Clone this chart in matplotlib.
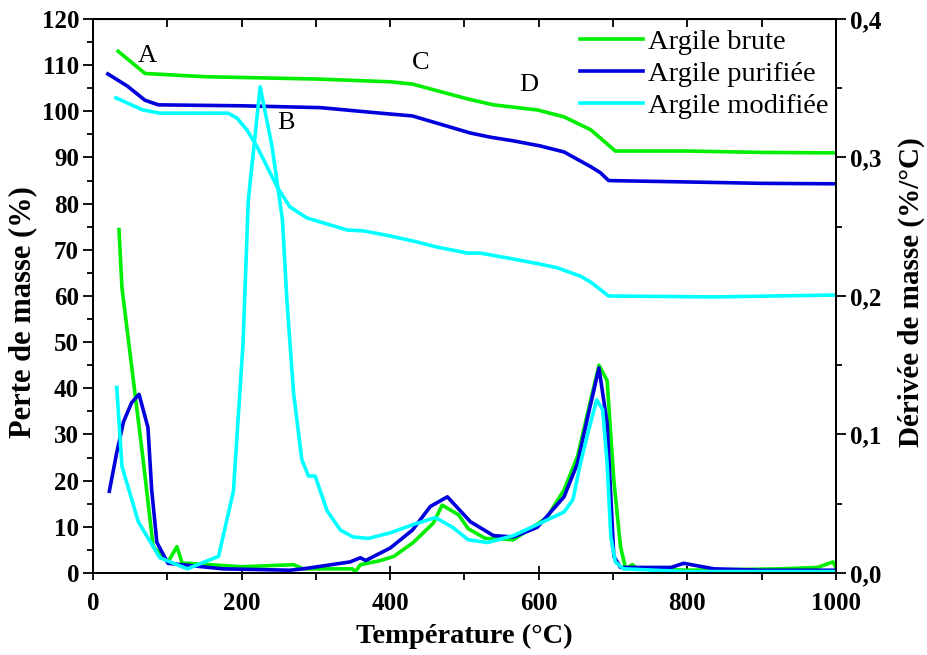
import matplotlib
matplotlib.use("Agg")
import matplotlib.pyplot as plt
from matplotlib.ticker import MultipleLocator, FuncFormatter

plt.rcParams['font.family'] = ['Liberation Serif', 'DejaVu Serif']

# ===============================
# DATA
# ===============================

# TGA - perte de masse (%)
T_brute = [34, 70, 150, 300, 400, 430, 504, 539, 598, 634, 670, 703, 800, 900, 997]
M_brute = [113, 108.2, 107.5, 107.0, 106.4, 105.9, 102.7, 101.4, 100.3, 98.8, 96.0, 91.4, 91.4, 91.1, 91.0]

T_puri = [20, 46, 70, 88, 200, 306, 387, 430, 508, 535, 566, 602, 634, 670, 683, 694, 800, 900, 1000]
M_puri = [108.1, 105.5, 102.4, 101.4, 101.2, 100.8, 99.6, 99.0, 95.3, 94.4, 93.6, 92.5, 91.2, 88.0, 86.7, 85.0, 84.7, 84.4, 84.3]

T_modif = [31, 67, 90, 182, 194, 207, 221, 248, 265, 288, 342, 364, 400, 431, 463, 504, 521,
           566, 602, 625, 656, 670, 694, 836, 997]
M_modif = [102.9, 100.3, 99.6, 99.6, 98.5, 96.0, 92.3, 83.6, 79.3, 76.9, 74.3, 74.1, 73.0, 71.9, 70.6,
           69.3, 69.3, 68.0, 66.9, 66.1, 64.3, 63.0, 60.0, 59.8, 60.2]

# DTG - derivee de masse (%/°C)
Td_brute = [35, 39, 67, 81, 101, 113, 120, 128, 200, 270, 283, 349, 353, 360, 387, 405, 431, 458, 470,
            492, 505, 528, 566, 611, 634, 652, 666, 681, 692, 701, 710, 717, 726, 733, 800, 926, 975, 996, 1000]
D_brute = [0.248, 0.206, 0.084, 0.019, 0.008, 0.019, 0.007, 0.007, 0.0045, 0.006, 0.003, 0.003, 0.001,
           0.006, 0.009, 0.012, 0.022, 0.036, 0.049, 0.042, 0.032, 0.025, 0.024, 0.040, 0.060, 0.084,
           0.116, 0.150, 0.139, 0.067, 0.019, 0.003, 0.006, 0.003, 0.002, 0.003, 0.004, 0.008, 0.004]

Td_puri = [22, 32, 41, 52, 62, 74, 79, 86, 101, 175, 265, 283, 346, 360, 367, 400, 430, 454, 477, 508,
           539, 566, 598, 634, 652, 666, 681, 692, 697, 701, 710, 778, 795, 836, 900, 1000]
D_puri = [0.059, 0.087, 0.109, 0.123, 0.129, 0.105, 0.060, 0.022, 0.007, 0.003, 0.002, 0.003, 0.008,
          0.011, 0.009, 0.018, 0.031, 0.048, 0.055, 0.037, 0.027, 0.026, 0.033, 0.055, 0.079, 0.113,
          0.148, 0.108, 0.055, 0.012, 0.004, 0.004, 0.007, 0.003, 0.002, 0.002]

Td_modif = [32, 39, 61, 90, 127, 169, 189, 202, 209, 225, 241, 255, 261, 270, 281, 290, 299, 315, 333,
            350, 371, 400, 431, 461, 484, 505, 531, 566, 602, 634, 646, 656, 667, 678, 686, 692, 697,
            703, 714, 800, 1000]
D_modif = [0.134, 0.077, 0.037, 0.011, 0.003, 0.012, 0.059, 0.166, 0.269, 0.351, 0.308, 0.255, 0.197,
           0.130, 0.082, 0.070, 0.070, 0.045, 0.031, 0.026, 0.025, 0.029, 0.035, 0.040, 0.033, 0.024,
           0.022, 0.027, 0.036, 0.044, 0.053, 0.079, 0.103, 0.125, 0.118, 0.079, 0.026, 0.008, 0.003,
           0.001, 0.001]

labels = ["Argile brute", "Argile purifiée", "Argile modifiée"]
colors = ["#00ee00", "#0000dd", "#00ffff"]

# annotations A, B, C, D
ann_text = ["A", "B", "C", "D"]
ann_x = [73, 260, 441, 586]
ann_y = [112, 97.5, 110.5, 105.7]

# ===============================
# PLOT
# ===============================

fig = plt.figure(figsize=(9.27, 6.55), dpi=100)
ax = fig.add_axes([0.1003, 0.1252, 0.8015, 0.8458])
ax2 = ax.twinx()

lw = 2.6
ax.plot(T_brute, M_brute, color=colors[0], lw=lw, label=labels[0])
ax.plot(T_puri, M_puri, color=colors[1], lw=lw, label=labels[1])
ax.plot(T_modif, M_modif, color=colors[2], lw=lw, label=labels[2])

ax2.plot(Td_brute, D_brute, color=colors[0], lw=lw)
ax2.plot(Td_puri, D_puri, color=colors[1], lw=lw)
ax2.plot(Td_modif, D_modif, color=colors[2], lw=lw)

for t, x, y in zip(ann_text, ann_x, ann_y):
    ax.text(x, y, t, fontsize=19, ha='center', va='center')

ax.set_xlim(0, 1000)
ax.set_ylim(0, 120)
ax2.set_ylim(0, 0.4)

ax.xaxis.set_major_locator(MultipleLocator(200))
ax.xaxis.set_minor_locator(MultipleLocator(100))
ax.yaxis.set_major_locator(MultipleLocator(10))
ax.yaxis.set_minor_locator(MultipleLocator(5))
ax2.yaxis.set_major_locator(MultipleLocator(0.1))
ax2.yaxis.set_minor_locator(MultipleLocator(0.05))
ax2.yaxis.set_major_formatter(FuncFormatter(lambda v, p: f"{v:.1f}".replace(".", ",")))

ax.tick_params(axis='x', which='major', direction='inout', length=10, width=1.3, pad=9)
ax.tick_params(axis='x', which='minor', direction='out', length=5, width=1.3)
ax.tick_params(axis='y', which='major', direction='out', length=7, width=1.3, pad=3)
ax.tick_params(axis='y', which='minor', direction='out', length=4, width=1.3)
ax2.tick_params(axis='y', which='major', direction='out', length=7, width=1.3, pad=3)
ax2.tick_params(axis='y', which='minor', direction='out', length=4, width=1.3)

# top ticks every 100, pointing in
top = ax.secondary_xaxis('top')
top.xaxis.set_major_locator(MultipleLocator(100))
top.tick_params(direction='in', length=6, width=1.3, labeltop=False)

for a in (ax, ax2):
    for s in a.spines.values():
        s.set_linewidth(1.3)

for lab in ax.get_xticklabels() + ax.get_yticklabels() + ax2.get_yticklabels():
    lab.set_fontweight('bold')
    lab.set_fontsize(18)

ax.set_xlabel("Température (°C)", fontsize=20.5, fontweight='bold', labelpad=6)
ax.set_ylabel("Perte de masse (%)", fontsize=22, fontweight='bold')
ax2.set_ylabel("Dérivée de masse (%/°C)", fontsize=21, fontweight='bold')
ax.yaxis.set_label_coords(-0.0755, 0.471)
ax2.yaxis.set_label_coords(1.083, 0.507)

ax.legend(loc='upper right', frameon=False, fontsize=20.5, handlelength=2.2,
          handletextpad=0.2, labelspacing=0.2, borderpad=0.1, borderaxespad=0.15,
          bbox_to_anchor=(1.0, 0.994))

fig.savefig("out.png", dpi=100)
